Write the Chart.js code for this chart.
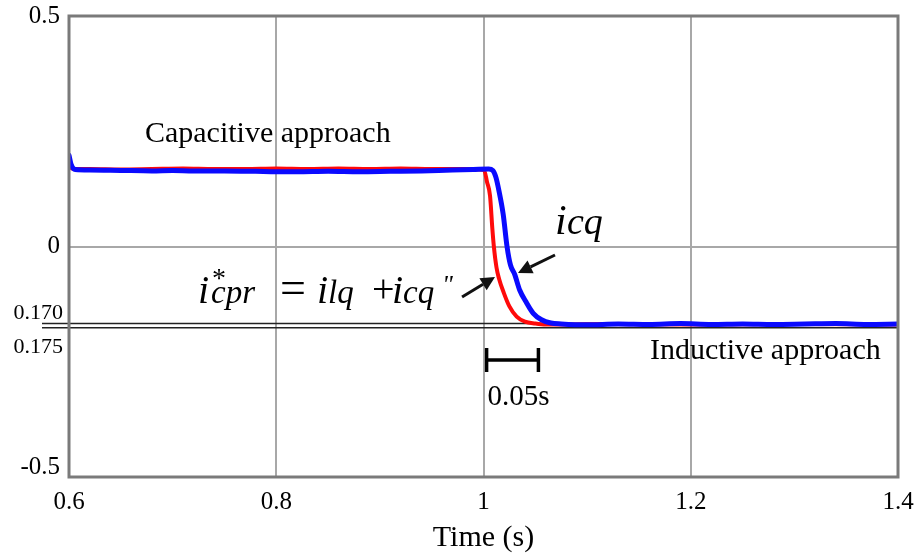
<!DOCTYPE html>
<html>
<head>
<meta charset="utf-8">
<script src="https://cdn.jsdelivr.net/npm/chart.js@4"></script>
<style>
  html, body { margin: 0; padding: 0; background: #fff; }
  #wrap { width: 922px; height: 556px; position: relative; }
</style>
</head>
<body>
<div id="wrap"><canvas id="c" width="922" height="556"></canvas></div>
<script>
// ---- data ----
const xTicks = [0.6, 0.8, 1.0, 1.2, 1.4];
const xTickLabels = ['0.6', '0.8', '1', '1.2', '1.4'];
const yTicks = [-0.5, 0, 0.5];
const yTickLabels = [['-0.5', ''], '0', '0.5'];
const refLevels = [-0.167, -0.176];
const refLabels = ['0.170', '0.175'];

const redT = [0.600, 0.602, 0.605, 0.62, 0.65, 0.68, 0.71, 0.74, 0.77, 0.80, 0.83, 0.86, 0.89, 0.92, 0.95, 0.98,
  1.0005, 1.0034, 1.0063, 1.0085, 1.010, 1.0125, 1.015, 1.0195, 1.025, 1.032, 1.040, 1.050, 1.060, 1.08, 1.12, 1.20, 1.30, 1.40];
const redY = [0.178, 0.170, 0.168, 0.168, 0.167, 0.168, 0.169, 0.168, 0.168, 0.169, 0.168, 0.169, 0.168, 0.169, 0.168, 0.168,
  0.166, 0.140, 0.110, 0.040, 0.000, -0.045, -0.070, -0.100, -0.130, -0.152, -0.163, -0.167, -0.169, -0.169, -0.168, -0.169, -0.168, -0.169];

const blueT = [0.600, 0.602, 0.606, 0.62, 0.65, 0.68, 0.70, 0.72, 0.75, 0.78, 0.80, 0.82, 0.85, 0.88, 0.91, 0.94, 0.97, 0.99,
  1.005, 1.009, 1.012, 1.015, 1.019, 1.0227, 1.026, 1.030, 1.035, 1.041, 1.048, 1.056, 1.065, 1.075,
  1.10, 1.13, 1.16, 1.19, 1.22, 1.25, 1.28, 1.31, 1.34, 1.37, 1.40];
const blueY = [0.198, 0.178, 0.167, 0.166, 0.165, 0.164, 0.165, 0.164, 0.164, 0.163, 0.162, 0.162, 0.163, 0.162, 0.163, 0.164, 0.166, 0.167,
  0.168, 0.165, 0.150, 0.120, 0.070, 0.000, -0.040, -0.060, -0.095, -0.120, -0.145, -0.159, -0.166, -0.168,
  -0.170, -0.168, -0.169, -0.167, -0.169, -0.168, -0.169, -0.168, -0.167, -0.169, -0.168];

const scaleBar = { start: 1.003, length: 0.05, level: -0.246, label: '0.05s' };

// ---- annotation layout (data coordinates) ----
const notes = {
  capacitive: { x: 0.6733, y: 0.2267, text: 'Capacitive approach' },
  inductive: { x: 1.1607, y: -0.2440, text: 'Inductive approach' },
  equation: { x: 0.7245, y: -0.1226 },
  icq: { x: 1.0690, y: 0.0271 },
  arrows: [
    { x0: 0.9793, y0: -0.1095, x1: 1.0111, y1: -0.0662 },
    { x0: 1.0690, y0: -0.0184, x1: 1.0333, y1: -0.0575 }
  ]
};

const SERIF = '"Liberation Serif", "Times New Roman", serif';

function pts(t, v) { return t.map((x, i) => ({ x: x, y: v[i] })); }

function arrow(ctx, x0, y0, x1, y1) {
  const ang = Math.atan2(y1 - y0, x1 - x0);
  const hl = 14, hw = 7;
  const bx = x1 - hl * Math.cos(ang), by = y1 - hl * Math.sin(ang);
  ctx.beginPath();
  ctx.moveTo(x0, y0);
  ctx.lineTo(bx, by);
  ctx.lineWidth = 3;
  ctx.strokeStyle = '#111';
  ctx.stroke();
  ctx.beginPath();
  ctx.moveTo(x1, y1);
  ctx.lineTo(bx + hw * Math.sin(ang), by - hw * Math.cos(ang));
  ctx.lineTo(bx - hw * Math.sin(ang), by + hw * Math.cos(ang));
  ctx.closePath();
  ctx.fillStyle = '#111';
  ctx.fill();
}

const deco = {
  id: 'deco',
  beforeDraw(chart) {
    const ctx = chart.ctx;
    ctx.save();
    ctx.fillStyle = '#fff';
    ctx.fillRect(0, 0, chart.width, chart.height);
    ctx.restore();
  },
  beforeDatasetsDraw(chart) {
    const ctx = chart.ctx, a = chart.chartArea, ys = chart.scales.y;
    ctx.save();
    ctx.strokeStyle = '#222';
    ctx.lineWidth = 1.5;
    refLevels.forEach(v => {
      const py = ys.getPixelForValue(v);
      ctx.beginPath();
      ctx.moveTo(a.left - 27, py);
      ctx.lineTo(a.right, py);
      ctx.stroke();
    });
    ctx.restore();
  },
  afterDatasetsDraw(chart) {
    const ctx = chart.ctx, a = chart.chartArea;
    ctx.save();
    ctx.strokeStyle = '#7a7a7a';
    ctx.lineWidth = 3;
    ctx.strokeRect(a.left, a.top, a.right - a.left, a.bottom - a.top);
    ctx.restore();
  },
  afterDraw(chart) {
    const ctx = chart.ctx, a = chart.chartArea;
    const X = v => chart.scales.x.getPixelForValue(v);
    const Y = v => chart.scales.y.getPixelForValue(v);
    ctx.save();
    ctx.fillStyle = '#000';
    ctx.textBaseline = 'alphabetic';

    // ref labels
    ctx.font = '22px ' + SERIF;
    ctx.textAlign = 'right';
    ctx.fillText(refLabels[0], a.left - 6, Y(refLevels[0]) - 4);
    ctx.fillText(refLabels[1], a.left - 6, Y(refLevels[1]) + 25);

    // approach labels
    ctx.textAlign = 'left';
    ctx.font = '30px ' + SERIF;
    ctx.fillText(notes.capacitive.text, X(notes.capacitive.x), Y(notes.capacitive.y));
    ctx.fillText(notes.inductive.text, X(notes.inductive.x), Y(notes.inductive.y));

    // scale bar
    const bx0 = X(scaleBar.start), bx1 = X(scaleBar.start + scaleBar.length), by = Y(scaleBar.level);
    ctx.strokeStyle = '#000';
    ctx.lineWidth = 3.5;
    ctx.beginPath();
    ctx.moveTo(bx0, by); ctx.lineTo(bx1, by);
    ctx.moveTo(bx0, by - 12); ctx.lineTo(bx0, by + 12);
    ctx.moveTo(bx1, by - 12); ctx.lineTo(bx1, by + 12);
    ctx.stroke();
    ctx.font = '29px ' + SERIF;
    ctx.fillText(scaleBar.label, bx0 + 1, by + 45);

    // equation
    const ex = X(notes.equation.x), ey = Y(notes.equation.y);
    const big = 'italic 40px ' + SERIF, sub = 'italic 33px ' + SERIF;
    ctx.font = big; ctx.fillText('i', ex, ey);
    ctx.font = '28px ' + SERIF; ctx.fillText('*', ex + 14, ey - 16);
    ctx.font = sub; ctx.fillText('cpr', ex + 13, ey);
    ctx.font = '46px ' + SERIF; ctx.fillText('=', ex + 82, ey);
    ctx.font = big; ctx.fillText('i', ex + 119, ey);
    ctx.font = sub; ctx.fillText('lq', ex + 130, ey);
    ctx.font = '40px ' + SERIF; ctx.fillText('+', ex + 174, ey - 1);
    ctx.font = big; ctx.fillText('i', ex + 194, ey);
    ctx.font = sub; ctx.fillText('cq', ex + 205, ey);
    ctx.font = 'italic 26px ' + SERIF; ctx.fillText('"', ex + 244, ey - 10);

    // icq label
    const ix = X(notes.icq.x), iy = Y(notes.icq.y);
    ctx.font = 'italic 42px ' + SERIF; ctx.fillText('i', ix, iy);
    ctx.font = 'italic 38px ' + SERIF; ctx.fillText('cq', ix + 12, iy);

    // arrows
    notes.arrows.forEach(r => arrow(ctx, X(r.x0), Y(r.y0), X(r.x1), Y(r.y1)));
    ctx.restore();
  }
};

new Chart(document.getElementById('c'), {
  type: 'line',
  data: {
    datasets: [
      { label: 'icq', data: pts(blueT, blueY), borderColor: '#0a0aff', borderWidth: 5,
        pointRadius: 0, cubicInterpolationMode: 'monotone', borderJoinStyle: 'round', borderCapStyle: 'round' },
      { label: 'icpr*', data: pts(redT, redY), borderColor: '#ff0a0a', borderWidth: 4,
        pointRadius: 0, cubicInterpolationMode: 'monotone', borderJoinStyle: 'round', borderCapStyle: 'round' }
    ]
  },
  options: {
    responsive: false,
    animation: false,
    events: [],
    layout: { padding: { top: 16, right: 24, bottom: 0, left: 0 } },
    plugins: { legend: { display: false }, tooltip: { enabled: false } },
    scales: {
      x: {
        type: 'linear', min: 0.6, max: 1.4,
        afterBuildTicks: s => { s.ticks = xTicks.map(v => ({ value: v })); },
        afterFit: s => { s.height = 79; s.paddingLeft = 0; s.paddingRight = 0; },
        ticks: { callback: (v, i) => xTickLabels[i], font: { family: SERIF, size: 25 }, color: '#000', padding: 10, maxRotation: 0 },
        grid: { color: '#a8a8a8', lineWidth: 2, drawTicks: false },
        border: { display: false },
        title: { display: true, text: 'Time (s)', font: { family: SERIF, size: 30 }, color: '#000', padding: { top: 0, bottom: 0 } }
      },
      y: {
        type: 'linear', min: -0.5, max: 0.5,
        afterBuildTicks: s => { s.ticks = yTicks.map(v => ({ value: v })); },
        afterFit: s => { s.width = 69; s.paddingTop = 0; s.paddingBottom = 0; },
        ticks: { callback: (v, i) => yTickLabels[i], font: { family: SERIF, size: 25, lineHeight: 0.75 }, color: '#000', padding: 9 },
        grid: { color: '#a8a8a8', lineWidth: 2, drawTicks: false },
        border: { display: false }
      }
    }
  },
  plugins: [deco]
});
</script>
</body>
</html>
